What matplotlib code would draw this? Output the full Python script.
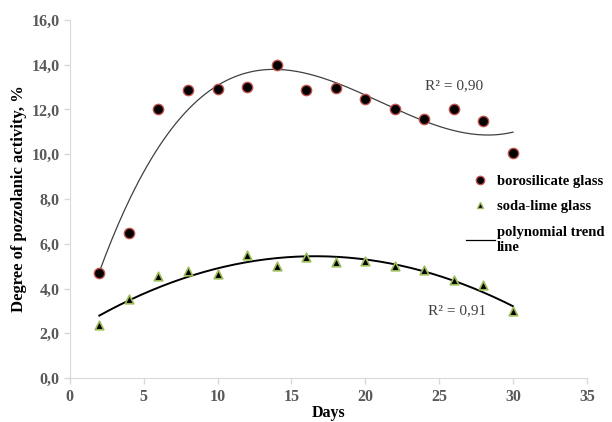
import numpy as np
import matplotlib.pyplot as plt
from matplotlib.lines import Line2D

days = [2, 4, 6, 8, 10, 12, 14, 16, 18, 20, 22, 24, 26, 28, 30]
borosilicate = [4.7, 6.5, 12.0, 12.85, 12.9, 13.0, 14.0, 12.85, 12.95, 12.45, 12.0, 11.55, 12.0, 11.5, 10.05]
soda_lime = [2.35, 3.55, 4.55, 4.8, 4.65, 5.5, 5.0, 5.4, 5.2, 5.25, 5.0, 4.85, 4.4, 4.15, 3.0]
y_ticks = np.arange(0, 16.1, 2)
x_ticks = np.arange(0, 36, 5)

plt.rcParams['font.family'] = ['Liberation Serif', 'DejaVu Serif']

fig = plt.figure(figsize=(6.12, 4.22), dpi=100)
ax = fig.add_axes([0.114, 0.104, 0.845, 0.849])

d = np.array(days, dtype=float)
xs = np.linspace(2, 30, 200)
# polynomial trend lines
p_boro = np.polyfit(d, borosilicate, 3)
p_soda = np.polyfit(d, soda_lime, 2)
ax.plot(xs, np.polyval(p_boro, xs), color='#404040', lw=0.9, zorder=2)
ax.plot(xs, np.polyval(p_soda, xs), color='black', lw=1.4, zorder=2)

ax.scatter(days, borosilicate, s=55, marker='o', facecolor='black',
           edgecolor='#c0504d', linewidths=1.0, zorder=3)
ax.scatter(days, soda_lime, s=38, marker='^', facecolor='black',
           edgecolor='#9bbb59', linewidths=1.2, zorder=3)

ax.text(26.0, 13.05, 'R² = 0,90', fontsize=11, color='#404040', ha='center', va='center')
ax.text(26.2, 3.0, 'R² = 0,91', fontsize=11, color='#404040', ha='center', va='center')

ax.set_xlim(0, 35)
ax.set_ylim(0, 16)
ax.set_xticks(x_ticks)
ax.set_yticks(y_ticks)
ax.set_xticklabels([str(v) for v in x_ticks])
ax.set_yticklabels([f'{v:.1f}'.replace('.', ',') for v in y_ticks])
for lab in ax.get_xticklabels() + ax.get_yticklabels():
    lab.set_fontweight('bold')
    lab.set_color('#595959')
    lab.set_fontsize(11.5)
ax.tick_params(length=4, color='#d9d9d9', width=1)
for s in ['top', 'right']:
    ax.spines[s].set_visible(False)
for s in ['left', 'bottom']:
    ax.spines[s].set_color('#d9d9d9')

ax.set_xlabel('Days', fontweight='bold', fontsize=11.5, labelpad=0)
ax.set_ylabel('Degree of pozzolanic activity, %', fontweight='bold', fontsize=12, labelpad=3)

handles = [
    Line2D([], [], ls='none', marker='o', markersize=6, markerfacecolor='black', markeredgecolor='#c0504d'),
    Line2D([], [], ls='none', marker='^', markersize=5, markerfacecolor='black', markeredgecolor='#9bbb59'),
    Line2D([], [], color='black', lw=0.9),
]
labels = ['borosilicate glass', 'soda-lime glass', 'polynomial trend\nline']
leg = ax.legend(handles, labels, loc='upper left', bbox_to_anchor=(0.74, 0.605),
                frameon=False, prop={'weight': 'bold', 'size': 10.5},
                handlelength=2.0, handletextpad=0.15, labelspacing=0.85)

fig.savefig('out.png', dpi=100)
